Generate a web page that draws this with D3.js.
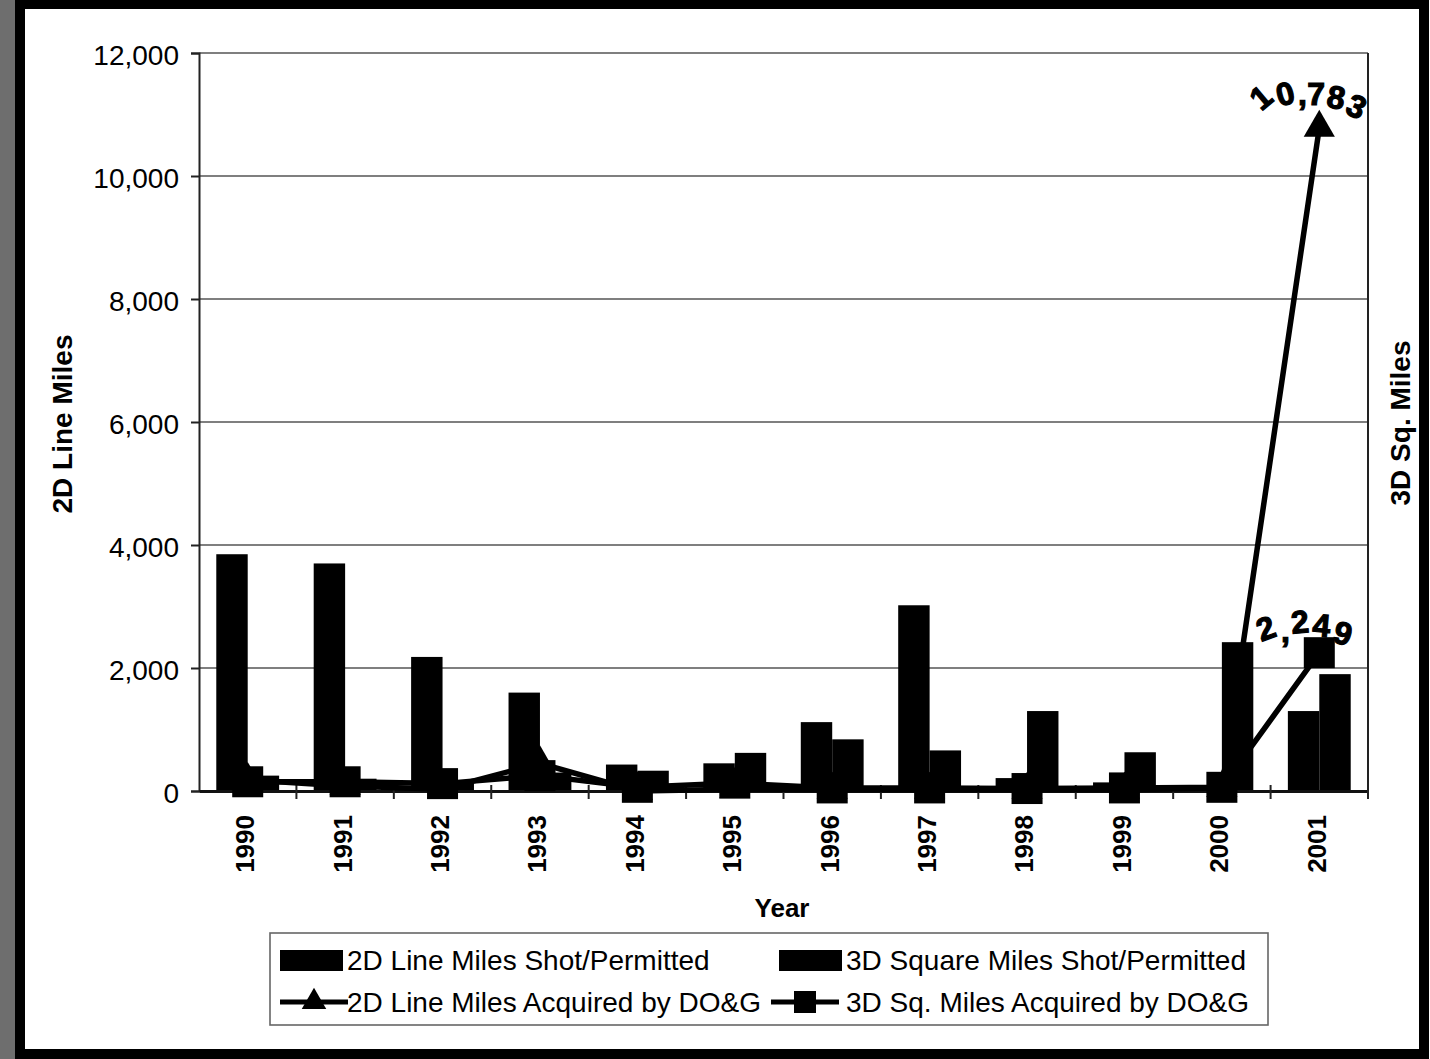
<!DOCTYPE html>
<html>
<head>
<meta charset="utf-8">
<script src="https://cdn.jsdelivr.net/npm/d3@7"></script>
<style>
  html, body { margin: 0; padding: 0; background: #fff; }
  svg { display: block; }
  text { font-family: "Liberation Sans", Arial, Helvetica, sans-serif; fill: #000; }
</style>
</head>
<body>
<svg id="chart" width="1430" height="1059"></svg>
<script>
// ---- data ----
const years = ["1990","1991","1992","1993","1994","1995","1996","1997","1998","1999","2000","2001"];
const shot2D = [3850, 3700, 2180, 1600, 430, 450, 1120, 3020, 210, 140, 20, 1300];
const shot3D = [250, 200, 150, 300, 330, 620, 840, 660, 1300, 630, 2420, 1900];
const acq2D  = [180, 80, 30, 450, 0, 30, 20, 20, 20, 20, 50, 10783];
const acq3D  = [150, 150, 120, 250, 60, 130, 50, 50, 40, 50, 60, 2249];
const yTicks = [0, 2000, 4000, 6000, 8000, 10000, 12000];
const seriesNames = ["2D Line Miles Shot/Permitted", "3D Square Miles Shot/Permitted",
                     "2D Line Miles Acquired by DO&G", "3D Sq. Miles Acquired by DO&G"];
const labelled = [{year: "2001", text: "10,783"},
                  {year: "2001", text: "2,249"}];

const svg = d3.select("#chart");
const L = 199, R = 1368, T = 53, B = 791;

// background / frame
svg.append("rect").attr("x", 0).attr("y", 0).attr("width", 1430).attr("height", 1059).attr("fill", "#fff");
svg.append("rect").attr("x", 0).attr("y", 0).attr("width", 16).attr("height", 1059).attr("fill", "#6e6e6e");
svg.append("rect").attr("x", 20).attr("y", 4).attr("width", 1404).attr("height", 1050)
   .attr("fill", "none").attr("stroke", "#000").attr("stroke-width", 10);

const x = d3.scaleBand().domain(years).range([L, R]).padding(0);
const bw = x.bandwidth();
const xs = d3.scaleBand().domain(["2D", "3D"]).range([0, bw]).paddingInner(0).paddingOuter(0.55);
const y = d3.scaleLinear().domain([0, 12000]).range([B, T]);

// gridlines
svg.append("g").selectAll("line").data(yTicks.filter(d => d > 0)).join("line")
  .attr("x1", L).attr("x2", R).attr("y1", d => y(d)).attr("y2", d => y(d))
  .attr("stroke", "#555").attr("stroke-width", 1.6);

// right border
svg.append("line").attr("x1", R).attr("x2", R).attr("y1", T).attr("y2", B)
  .attr("stroke", "#222").attr("stroke-width", 2);

// left axis
const yAxis = d3.axisLeft(y).tickValues(yTicks).tickFormat(d3.format(",")).tickSizeOuter(0).tickSize(8).tickPadding(12);
const gy = svg.append("g").attr("transform", `translate(${L},0)`).call(yAxis);
gy.select(".domain").attr("stroke", "#222").attr("stroke-width", 2);
gy.selectAll(".tick line").attr("stroke", "#222").attr("stroke-width", 2);
gy.selectAll(".tick text").attr("font-size", 28).attr("font-family", "Liberation Sans, Arial, sans-serif").attr("fill", "#000").attr("dy", "0.4em");

// bars
const bars = svg.append("g");
bars.selectAll("rect.s2").data(years).join("rect").attr("class", "s2")
  .attr("x", d => x(d) + xs("2D")).attr("width", xs.bandwidth())
  .attr("y", (d, i) => y(shot2D[i])).attr("height", (d, i) => B - y(shot2D[i]))
  .attr("fill", "#000");
bars.selectAll("rect.s3").data(years).join("rect").attr("class", "s3")
  .attr("x", d => x(d) + xs("3D")).attr("width", xs.bandwidth())
  .attr("y", (d, i) => y(shot3D[i])).attr("height", (d, i) => B - y(shot3D[i]))
  .attr("fill", "#000");

// bottom axis
const xAxis = d3.axisBottom(x).tickSize(0).tickPadding(0).tickFormat("");
const gx = svg.append("g").attr("transform", `translate(0,${B})`).call(xAxis);
gx.select(".domain").attr("stroke", "#111").attr("stroke-width", 3);
// category separator ticks
svg.append("g").selectAll("line").data(years).join("line")
  .attr("x1", d => x(d) + bw).attr("x2", d => x(d) + bw)
  .attr("y1", B - 6).attr("y2", B + 8).attr("stroke", "#222").attr("stroke-width", 2);

// year labels
svg.append("g").selectAll("text").data(years).join("text")
  .attr("transform", d => `translate(${x(d) + bw / 2 - 3},${B + 24}) rotate(-90)`)
  .attr("text-anchor", "end").attr("dy", "0.36em")
  .attr("font-size", 26).attr("font-weight", "bold").text(d => d);

// lines
const cx = d => x(d) + bw / 2;
const line = d3.line().x(d => cx(d.year)).y(d => y(d.v));
const a2 = years.map((yr, i) => ({year: yr, v: acq2D[i]}));
const a3 = years.map((yr, i) => ({year: yr, v: acq3D[i]}));
svg.append("path").datum(a2).attr("d", line).attr("fill", "none").attr("stroke", "#000").attr("stroke-width", 5.5).attr("stroke-linejoin", "round");
svg.append("path").datum(a3).attr("d", line).attr("fill", "none").attr("stroke", "#000").attr("stroke-width", 5.5).attr("stroke-linejoin", "round");

// markers
const sq = 31;
svg.append("g").selectAll("rect").data(a3).join("rect")
  .attr("x", d => cx(d.year) - sq / 2).attr("y", d => y(d.v) - sq / 2)
  .attr("width", sq).attr("height", sq).attr("fill", "#000");
const tri = d3.symbol().type(d3.symbolTriangle).size(420);
svg.append("g").selectAll("path").data(a2).join("path")
  .attr("transform", d => `translate(${cx(d.year)},${y(d.v)})`).attr("d", tri).attr("fill", "#000");

// data labels (wobbly glyphs, as in the scan) - one text element each
function wobblyLabel(x0, y0, str, rots, dys, size, spacing) {
  svg.append("text").attr("x", x0).attr("y", y0).attr("text-anchor", "start")
    .attr("font-size", size).attr("font-weight", "bold").attr("font-family", "DejaVu Sans, sans-serif")
    .attr("letter-spacing", spacing)
    .attr("rotate", rots.join(" ")).attr("dy", dys.join(" "))
    .attr("stroke", "#000").attr("stroke-width", 1.2).text(str);
}
const lab1 = labelled[0], lab2 = labelled[1];
wobblyLabel(cx(lab1.year) - 58, y(acq2D[11]) - 22, lab1.text, [-40, -15, 0, 0, 10, 25], [6, -5, -2, 0, 2, 6], 32, 0.5);
wobblyLabel(cx(lab2.year) - 58, y(acq3D[11]) - 15, lab2.text, [-20, 0, -5, 5, 15], [4, 0, -8, 2, 6], 32, 2);

// axis titles
svg.append("text").attr("transform", "translate(72,424) rotate(-90)").attr("text-anchor", "middle")
  .attr("font-size", 28).attr("font-weight", "bold").text("2D Line Miles");
svg.append("text").attr("transform", "translate(1410,423) rotate(-90)").attr("text-anchor", "middle")
  .attr("font-size", 28).attr("font-weight", "bold").text("3D Sq. Miles");
svg.append("text").attr("x", 782).attr("y", 917).attr("text-anchor", "middle")
  .attr("font-size", 26).attr("font-weight", "bold").text("Year");

// legend
const lg = svg.append("g");
lg.append("rect").attr("x", 270).attr("y", 933).attr("width", 998).attr("height", 92)
  .attr("fill", "#fff").attr("stroke", "#666").attr("stroke-width", 1.6);
const legItems = [
  {name: seriesNames[0], kind: "bar", sx: 280, tx: 347, yy: 960},
  {name: seriesNames[1], kind: "bar", sx: 779, tx: 846, yy: 960},
  {name: seriesNames[2], kind: "tri", sx: 280, tx: 347, yy: 1002},
  {name: seriesNames[3], kind: "sq",  sx: 771, tx: 846, yy: 1002}
];
legItems.forEach(it => {
  if (it.kind === "bar") {
    lg.append("rect").attr("x", it.sx).attr("y", it.yy - 10).attr("width", 63).attr("height", 21).attr("fill", "#000");
  } else {
    lg.append("line").attr("x1", it.sx).attr("x2", it.sx + 68).attr("y1", it.yy).attr("y2", it.yy)
      .attr("stroke", "#000").attr("stroke-width", 5);
    if (it.kind === "tri") {
      lg.append("path").attr("transform", `translate(${it.sx + 34},${it.yy})`)
        .attr("d", d3.symbol().type(d3.symbolTriangle).size(260)).attr("fill", "#000");
    } else {
      lg.append("rect").attr("x", it.sx + 34 - 11).attr("y", it.yy - 11).attr("width", 22).attr("height", 22).attr("fill", "#000");
    }
  }
  lg.append("text").attr("x", it.tx).attr("y", it.yy).attr("dy", "0.36em")
    .attr("font-size", 28).text(it.name);
});
</script>
</body>
</html>
